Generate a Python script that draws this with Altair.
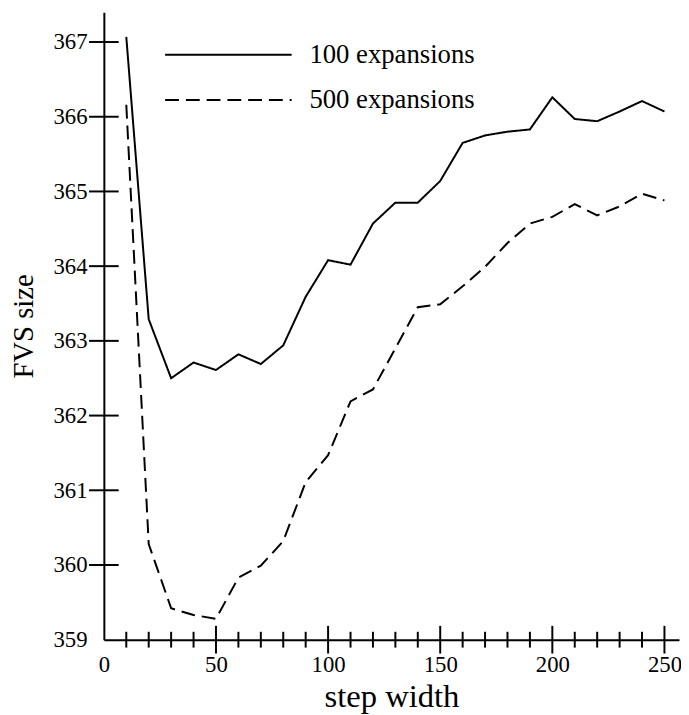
import altair as alt
import pandas as pd

# ---- data ----
steps = list(range(10, 251, 10))
fvs_100 = [367.07, 363.29, 362.50, 362.71, 362.61, 362.82, 362.69, 362.94, 363.59, 364.08,
           364.02, 364.57, 364.85, 364.85, 365.14, 365.65, 365.75, 365.80, 365.83, 366.26,
           365.97, 365.94, 366.07, 366.21, 366.07]
fvs_500 = [366.16, 360.28, 359.42, 359.33, 359.28, 359.83, 359.99, 360.32, 361.11, 361.47,
           362.19, 362.35, 362.90, 363.45, 363.49, 363.73, 363.99, 364.31, 364.57, 364.66,
           364.83, 364.68, 364.80, 364.97, 364.88]
series = ["100 expansions", "500 expansions"]

x_label_values = [0, 50, 100, 150, 200, 250]
x_major_ticks = [50, 100, 150, 200, 250]
x_minor_ticks = [v for v in range(10, 251, 10) if v % 50 != 0]
y_label_values = [359, 360, 361, 362, 363, 364, 365, 366, 367]
y_ticks = [360, 361, 362, 363, 364, 365, 366, 367]

df = pd.DataFrame({
    "step": steps + steps,
    "fvs": fvs_100 + fvs_500,
    "series": [series[0]] * len(steps) + [series[1]] * len(steps),
})

FONT = "Liberation Serif"
xscale = alt.Scale(domain=[0, 256.5], nice=False, zero=False)
yscale = alt.Scale(domain=[359, 367.4], nice=False, zero=False)

lines = alt.Chart(df).mark_line(color="black", strokeWidth=2).encode(
    x=alt.X("step:Q", scale=xscale, axis=alt.Axis(
        values=x_label_values, format="d", title="step width", ticks=False, tickSize=0,
        grid=False, domain=True, domainColor="black", domainWidth=2,
        labelFont=FONT, labelFontSize=23, labelColor="black", labelPadding=32,
        labelBaseline="alphabetic", labelFlush=False, labelOverlap=False,
        titleFont=FONT, titleFontSize=33, titleFontWeight="normal", titleColor="black",
        titleX=291, titleY=68, titleBaseline="alphabetic", titleAlign="center")),
    y=alt.Y("fvs:Q", scale=yscale, axis=alt.Axis(
        values=y_label_values, format="d", title="FVS size", ticks=False, tickSize=0,
        grid=False, domain=True, domainColor="black", domainWidth=2,
        labelFont=FONT, labelFontSize=23, labelColor="black", labelPadding=17,
        labelFlush=False, labelOverlap=False,
        titleFont=FONT, titleFontSize=29, titleFontWeight="normal", titleColor="black",
        titleAngle=270, titleX=-72, titleY=317.5, titleBaseline="alphabetic",
        titleAlign="center")),
    strokeDash=alt.StrokeDash("series:N",
        scale=alt.Scale(domain=series, range=[[1, 0], [14, 7]]),
        legend=alt.Legend(title=None, orient="none", legendX=61, legendY=20,
                          symbolType="stroke", symbolSize=16384, symbolStrokeWidth=2,
                          symbolStrokeColor="black", labelFont=FONT, labelFontSize=27,
                          labelColor="black", labelOffset=17, labelLimit=0,
                          clipHeight=46, rowPadding=0, padding=0)),
)

minor_x = alt.Chart(pd.DataFrame({"t": x_minor_ticks})).mark_tick(
    color="black", thickness=2, size=16, orient="vertical", opacity=1
).encode(x=alt.X("t:Q", scale=xscale), y=alt.datum(359))

major_x = alt.Chart(pd.DataFrame({"t": x_major_ticks})).mark_tick(
    color="black", thickness=2, size=28, orient="vertical", opacity=1
).encode(x=alt.X("t:Q", scale=xscale), y=alt.datum(359))

# y ticks crossing the y axis line (left edge of the plot)
ticks_y = alt.Chart(pd.DataFrame({"yt": y_ticks})).mark_tick(
    color="black", thickness=2, size=30, orient="horizontal", opacity=1
).encode(y=alt.Y("yt:Q", scale=yscale), x=alt.value(0))

chart = alt.layer(lines, minor_x, major_x, ticks_y).properties(
    width=582, height=635,
    autosize=alt.AutoSizeParams(type="none"),
    padding={"left": 97, "top": 0, "right": 2, "bottom": 72},
    background="white",
).configure_view(stroke=None)

chart.save("out.html", embed_options={"renderer": "svg", "actions": False})
